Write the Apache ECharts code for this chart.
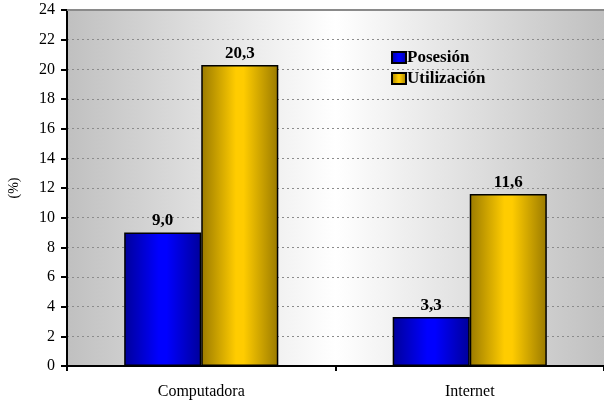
<!DOCTYPE html>
<html><head><meta charset="utf-8">
<script src="https://cdn.jsdelivr.net/npm/echarts@6/dist/echarts.min.js"></script>
<style>html,body{margin:0;padding:0;background:#fff}#c{width:604px;height:407px}</style>
</head><body><div id="c"></div>
<script>
var categories = ['Computadora', 'Internet'];
var posesion = [9.0, 3.3];
var utilizacion = [20.3, 11.6];
var yTicks = {min: 0, max: 24, interval: 2};

var font = '"Liberation Serif", "Times New Roman", serif';
function grad(edge, mid) {
  return new echarts.graphic.LinearGradient(0, 0, 1, 0, [
    {offset: 0, color: edge}, {offset: 0.45, color: mid}, {offset: 0.55, color: mid}, {offset: 1, color: edge}
  ]);
}
function fmt(p) { return p.value.toFixed(1).replace('.', ','); }
var chart = echarts.init(document.getElementById('c'));
chart.setOption({
  animation: false,
  textStyle: {fontFamily: font},
  grid: {left: 67, right: 0, top: 10, bottom: 41, show: true, borderWidth: 0,
    outerBoundsMode: 'none', containLabel: false,
    backgroundColor: new echarts.graphic.LinearGradient(0, 0, 1, 0, [
      {offset: 0, color: '#c0c0c0'}, {offset: 0.5, color: '#ffffff'}, {offset: 1, color: '#c0c0c0'}])},
  legend: {
    left: 386, top: 44, orient: 'vertical', itemWidth: 14, itemHeight: 11, itemGap: 4,
    icon: 'rect',
    textStyle: {fontFamily: font, fontWeight: 'bold', fontSize: 17, color: '#000', padding: [0, 0, 0, -4]},
    data: ['Posesión', 'Utilización']
  },
  xAxis: [{
    type: 'category', data: categories,
    axisLine: {lineStyle: {color: '#000', width: 2}},
    axisTick: {show: true, length: 5, lineStyle: {color: '#000', width: 2}},
    axisLabel: {fontFamily: font, fontSize: 16, color: '#000', margin: 18}
  }, {
    type: 'category', data: categories, position: 'top',
    axisLine: {lineStyle: {color: '#8a8a8a', width: 2}},
    axisTick: {show: false}, axisLabel: {show: false}
  }],
  yAxis: {
    type: 'value', min: yTicks.min, max: yTicks.max, interval: yTicks.interval,
    name: '(%)', nameLocation: 'middle', nameRotate: 90, nameGap: 46,
    nameTextStyle: {fontFamily: font, fontSize: 14, color: '#000'},
    axisLine: {show: true, lineStyle: {color: '#000', width: 2}},
    axisTick: {show: true, length: 6, lineStyle: {color: '#000', width: 2}},
    axisLabel: {fontFamily: font, fontSize: 16, color: '#000', margin: 12},
    splitLine: {lineStyle: {color: '#8c8c8c', type: [2, 3], width: 1}}
  },
  series: [{
    name: 'Posesión', type: 'bar', data: posesion, barWidth: '28.7%', barGap: '0%',
    itemStyle: {color: grad('#00009a', '#0000ff'), borderColor: '#000', borderWidth: 1.5},
    label: {show: true, position: 'top', formatter: fmt, fontFamily: font, fontWeight: 'bold', fontSize: 17, color: '#000', distance: 3}
  }, {
    name: 'Utilización', type: 'bar', data: utilizacion, barWidth: '28.7%', barGap: '0%',
    itemStyle: {color: grad('#9a7a00', '#ffcc00'), borderColor: '#000', borderWidth: 1.5},
    label: {show: true, position: 'top', formatter: fmt, fontFamily: font, fontWeight: 'bold', fontSize: 17, color: '#000', distance: 3}
  }]
});
</script></body></html>
